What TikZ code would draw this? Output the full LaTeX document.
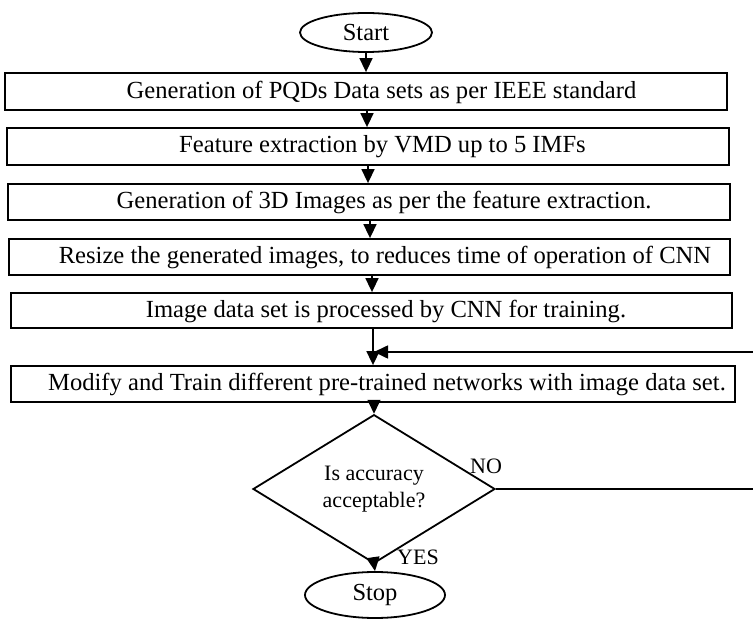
\documentclass[tikz,border=0pt]{standalone}
\usepackage{fontspec}
\setmainfont{Liberation Serif}
\usetikzlibrary{arrows.meta,shapes.geometric}
\tikzset{
  boxstyle/.style={draw, line width=1.8pt, rectangle, inner sep=0pt},
  boxtext/.style={inner sep=0pt, font=\fontsize{24.6}{28}\selectfont},
  term/.style={draw, line width=1.8pt, ellipse, inner sep=0pt, font=\fontsize{24.5}{28}\selectfont},
  decide/.style={draw, line width=1.8pt, diamond, inner sep=0pt, align=center, font=\fontsize{22}{27}\selectfont},
  lbl/.style={inner sep=0pt, font=\fontsize{22}{26}\selectfont},
  arr/.style={line width=1.6pt, -{Triangle[length=14pt,width=13pt]}},
  conn/.style={line width=1.6pt}
}
\begin{document}
\begin{tikzpicture}[x=1pt,y=-1pt]
\useasboundingbox (0,0) rectangle (753,620);
% terminals
\node[term, minimum width=132pt, minimum height=39pt] (start) at (366,32.5) {Start};
% process boxes
\node[boxstyle, minimum width=722pt, minimum height=37pt] (b1) at (366,91.5) {};
\node[boxstyle, minimum width=722pt, minimum height=37pt] (b2) at (368,146.5) {};
\node[boxstyle, minimum width=722pt, minimum height=36pt] (b3) at (369,202) {};
\node[boxstyle, minimum width=721pt, minimum height=36pt] (b4) at (369.5,257) {};
\node[boxstyle, minimum width=721pt, minimum height=35pt] (b5) at (371.5,310.5) {};
\node[boxstyle, minimum width=724pt, minimum height=36pt] (b6) at (373,384) {};
\node[boxtext] (t1) at (381.5,92) {Generation of PQDs Data sets as per IEEE standard};
\node[boxtext] (t2) at (382.5,147) {Feature extraction by VMD up to 5 IMFs};
\node[boxtext] (t3) at (384,202.5) {Generation of 3D Images as per the feature extraction.};
\node[boxtext] (t4) at (385,257.5) {Resize the generated images, to reduces time of operation of CNN};
\node[boxtext] (t5) at (386,311) {Image data set is processed by CNN for training.};
\node[boxtext] (t6) at (387,384.5) {Modify and Train different pre-trained networks with image data set.};
% decision
\node[decide, minimum width=242pt, minimum height=112pt] (dia) at (374,489) {Is accuracy\\acceptable?};
\node[term, minimum width=140pt, minimum height=46pt] (stop) at (375,595) {Stop};
\node[lbl] (no) at (486,466) {NO};
\node[lbl] (yes) at (418,557) {YES};
% column coordinates
\coordinate (c2) at (367,0);
\coordinate (c3) at (368,0);
\coordinate (c4) at (370,0);
\coordinate (c5) at (372,0);
\coordinate (c6) at (373,0);
\coordinate (fbc) at (758,489);
\coordinate (fbt) at (758,352);
\coordinate (fbj) at (374,352);
% connectors
\draw[arr] (start.south) -- (b1.north);
\draw[arr] (b1.south -| c2) -- (b2.north -| c2);
\draw[arr] (b2.south -| c3) -- (b3.north -| c3);
\draw[arr] (b3.south -| c4) -- (b4.north -| c4);
\draw[arr] (b4.south -| c5) -- (b5.north -| c5);
\draw[arr] (b5.south -| c6) -- (b6.north -| c6);
\draw[arr] (b6.south -| dia.north) -- (dia.north);
\draw[arr] (dia.south) -- (stop.north);
\draw[conn] (dia.east) -- (fbc) -- (fbt);
\draw[arr] (fbt) -- (fbj);
\end{tikzpicture}
\end{document}
